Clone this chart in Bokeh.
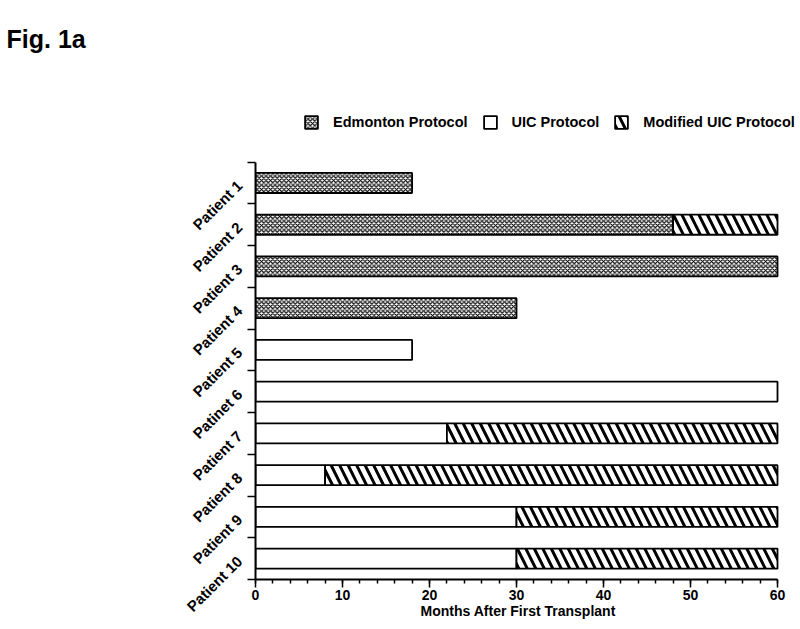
import math
from bokeh.plotting import figure
from bokeh.models import (Range1d, FixedTicker, SingleIntervalTicker, Legend,
                          LegendItem, ColumnDataSource)
from bokeh.embed import file_html
from bokeh.resources import INLINE

# ---- data ----
patients = ["Patient 1", "Patient 2", "Patient 3", "Patient 4", "Patient 5",
            "Patinet 6", "Patient 7", "Patient 8", "Patient 9", "Patient 10"]
edmonton = [18, 48, 60, 30, 0, 0, 0, 0, 0, 0]
uic = [0, 0, 0, 0, 18, 60, 22, 8, 30, 30]
modified = [0, 12, 0, 0, 0, 0, 38, 52, 30, 30]
protocols = ["Edmonton Protocol", "UIC Protocol", "Modified UIC Protocol"]
x_label = "Months After First Transplant"
title_text = "Fig. 1a"
x_max = 60

FONT = "Liberation Sans"
n = len(patients)

# the frame extends above / right of the bars so the legend can sit inside it;
# axis bounds keep the axis lines to the data extent
p = figure(width=796, height=621, output_backend="svg", toolbar_location=None,
           x_range=Range1d(0, x_max * 541 / 522), y_range=Range1d(n + 0.5, -1.0),
           min_border_left=255, min_border_right=0, min_border_top=99,
           min_border_bottom=40)
p.title.text = title_text + "\n"   # empty second line lifts the title to the top
p.xgrid.visible = False
p.ygrid.visible = False
p.outline_line_color = None
p.background_fill_color = "white"

p.title.text_font = FONT
p.title.text_font_style = "bold"
p.title.text_font_size = "25px"
p.title.text_color = "black"
p.title.align = "left"
p.title.offset = -249
p.title.standoff = 37

positions = [i + 1 for i in range(n)]

def segments(starts, widths):
    ys, ls, rs = [], [], []
    for y, s, w in zip(positions, starts, widths):
        if w > 0:
            ys.append(y)
            ls.append(s)
            rs.append(s + w)
    return ColumnDataSource(dict(y=ys, left=ls, right=rs))

start_e = [0] * n
start_u = list(edmonton)
start_m = [a + b for a, b in zip(edmonton, uic)]

common = dict(height=0.48, line_color="black", line_width=1.8, fill_color="white")
r_e = p.hbar(y="y", left="left", right="right", source=segments(start_e, edmonton),
             hatch_pattern="diagonal_cross", hatch_scale=4.5, hatch_weight=1.2,
             hatch_color="black", **common)
r_u = p.hbar(y="y", left="left", right="right", source=segments(start_u, uic), **common)
r_m = p.hbar(y="y", left="left", right="right", source=segments(start_m, modified),
             hatch_pattern="left_diagonal_line", hatch_scale=17, hatch_weight=3,
             hatch_color="black", **common)

# ---- axes ----
for ax in (p.xaxis, p.yaxis):
    ax.axis_line_width = 2
    ax.axis_line_color = "black"
    ax.major_tick_line_width = 1.5
    ax.minor_tick_line_width = 1.5
    ax.major_tick_line_color = "black"
    ax.minor_tick_line_color = "black"
    ax.major_label_text_font = FONT
    ax.major_label_text_font_style = "bold"
    ax.major_label_text_font_size = "14px"
    ax.major_label_text_color = "black"

p.xaxis.bounds = (0, x_max)
p.xaxis.ticker = SingleIntervalTicker(interval=10, num_minor_ticks=5)
p.xaxis.major_tick_in = 0
p.xaxis.major_tick_out = 8
p.xaxis.minor_tick_in = 0
p.xaxis.minor_tick_out = 4
p.xaxis.major_label_standoff = 2
# trailing no-break spaces re-centre the label under the 0-60 axis line
p.xaxis.axis_label = x_label + "\u00a0" * 4
p.xaxis.axis_label_text_font = FONT
p.xaxis.axis_label_text_font_style = "bold"
p.xaxis.axis_label_text_font_size = "14px"
p.xaxis.axis_label_text_color = "black"
p.xaxis.axis_label_standoff = 0

p.yaxis.bounds = (0.5, n + 0.5)
p.yaxis.ticker = FixedTicker(ticks=positions,
                             minor_ticks=[k + 0.5 for k in range(n + 1)])
p.yaxis.major_label_overrides = {y: name for y, name in zip(positions, patients)}
p.yaxis.major_label_text_font_size = "15px"
p.yaxis.major_tick_in = 0
p.yaxis.major_tick_out = 0
p.yaxis.minor_tick_in = 0
p.yaxis.minor_tick_out = 8
p.yaxis.major_label_standoff = 8
p.yaxis.major_label_orientation = math.pi / 4

# ---- legend ----
legend = Legend(items=[LegendItem(label=protocols[0], renderers=[r_e]),
                       LegendItem(label=protocols[1], renderers=[r_u]),
                       LegendItem(label=protocols[2], renderers=[r_m])],
                orientation="horizontal", location=(48, 449),
                glyph_width=16, glyph_height=16, label_standoff=14, spacing=14,
                padding=5, margin=0, border_line_color=None,
                background_fill_alpha=0,
                label_text_font=FONT, label_text_font_style="bold",
                label_text_font_size="14.5px", label_text_color="black")
p.add_layout(legend)

open("out.html", "w").write(file_html(p, INLINE))
